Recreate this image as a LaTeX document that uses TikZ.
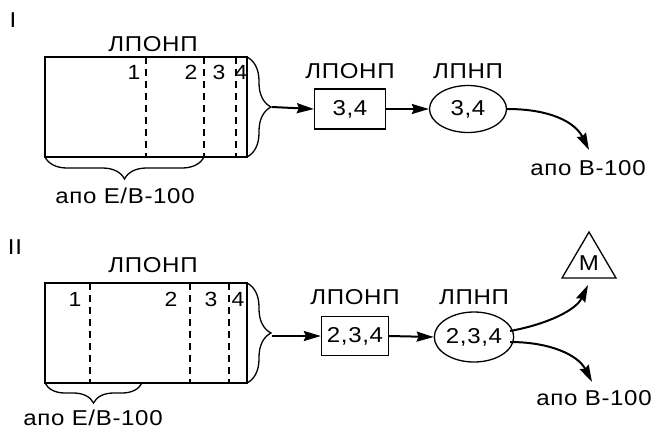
\documentclass[tikz,border=0pt]{standalone}
\usepackage{fontspec}
\setmainfont{Liberation Sans}[FakeStretch=1.12,LetterSpace=3]
\usetikzlibrary{arrows.meta,decorations.pathreplacing,shapes.geometric}
\begin{document}
\begin{tikzpicture}[x=1pt,y=-1pt,
  txt/.style={inner sep=0pt,font=\fontsize{21.5}{23}\selectfont},
  lbl/.style={inner sep=0pt,font=\fontsize{20.5}{22}\selectfont},
  bigrect/.style={draw,line width=1.3pt,inner sep=0pt,outer sep=0pt},
  boxn/.style={draw,line width=1.3pt,inner sep=0pt,font=\fontsize{21.5}{23}\selectfont},
  ell/.style={draw,ellipse,line width=1.3pt,inner sep=0pt,font=\fontsize{21.5}{23}\selectfont},
  dsh/.style={dashed,line width=1.2pt,dash pattern=on 7pt off 5pt},
  thk/.style={line width=2.2pt},
  brc/.style={decorate,line width=1.3pt},
  arr/.style={line width=2pt,-{Stealth[length=17pt,width=10pt,inset=2pt]}}
]
\useasboundingbox (0,0) rectangle (652,431);

% ---------------- Panel I ----------------
\node[txt] (rom1) at (13,20) {I};
\node[txt] (t1) at (153,44) {ЛПОНП};
\node[bigrect,minimum width=202pt,minimum height=100pt] (r1) at (146,107) {};
\draw[thk] (r1.south west) -- (r1.south east) -- (r1.north east);
\draw[dsh] (146,57) -- (146,157);
\draw[dsh] (204,57) -- (204,157);
\draw[dsh] (236,57) -- (236,157);
\node[lbl] (n11) at (134,72) {1};
\node[lbl] (n12) at (191,72) {2};
\node[lbl] (n13) at (219,72) {3};
\node[lbl] (n14) at (241,72) {4};
\draw[brc,decoration={brace,amplitude=24pt}] (r1.north east) -- (r1.south east);
\coordinate (b1) at (272,107);
\draw[brc,decoration={brace,amplitude=22pt}] (204,157) -- (r1.south west);
\node[txt] (apo1) at (125,196) {апо Е/В-100};
\node[boxn,minimum width=71pt,minimum height=40pt] (box1) at (350,109) {3,4};
\node[txt] (lb1) at (350,71) {ЛПОНП};
\node[ell,minimum width=77pt,minimum height=47pt] (e1) at (468,109) {3,4};
\node[txt] (le1) at (468,71) {ЛПНП};
\node[txt] (apob1) at (588,168) {апо В-100};
\coordinate (end1) at (589,150);
\draw[arr] (b1) -- (box1.west);
\draw[arr] (box1.east) -- (e1.west);
\draw[arr] (e1.east) .. controls (550,109) and (575,122) .. (end1);

% ---------------- Panel II ----------------
\node[txt] (rom2) at (15,247) {II};
\node[txt] (t2) at (153,265) {ЛПОНП};
\node[bigrect,minimum width=202pt,minimum height=100pt] (r2) at (146,333) {};
\draw[thk] (r2.south west) -- (r2.south east) -- (r2.north east);
\draw[dsh] (90,283) -- (90,383);
\draw[dsh] (190,283) -- (190,383);
\draw[dsh] (229,283) -- (229,383);
\node[lbl] (n21) at (75,299) {1};
\node[lbl] (n22) at (171,299) {2};
\node[lbl] (n23) at (211,299) {3};
\node[lbl] (n24) at (238,299) {4};
\draw[brc,decoration={brace,amplitude=24pt}] (r2.north east) -- (r2.south east);
\coordinate (b2) at (272,336);
\draw[brc,decoration={brace,amplitude=20pt}] (142,383) -- (r2.south west);
\node[txt] (apo2) at (93,418) {апо Е/В-100};
\node[boxn,minimum width=67pt,minimum height=39pt] (box2) at (355,336) {2,3,4};
\node[txt] (lb2) at (355,297) {ЛПОНП};
\node[ell,minimum width=75pt,minimum height=50pt] (e2) at (474,337) {2,3,4};
\node[txt] (le2) at (474,297) {ЛПНП};
\draw[line width=1.3pt] (589,232) -- (616,278) -- (562,278) -- cycle;
\node[txt] (m) at (589,263) {M};
\coordinate (tri) at (588,285);
\node[txt] (apob2) at (594,398) {апо В-100};
\coordinate (end2) at (592,382);
\draw[arr] (b2) -- (box2.west);
\draw[arr] (box2.east) -- (e2.west);
\draw[arr] (510,331) .. controls (548,324) and (576,310) .. (tri);
\draw[arr] (510,342) .. controls (550,342) and (578,355) .. (end2);
\end{tikzpicture}
\end{document}
